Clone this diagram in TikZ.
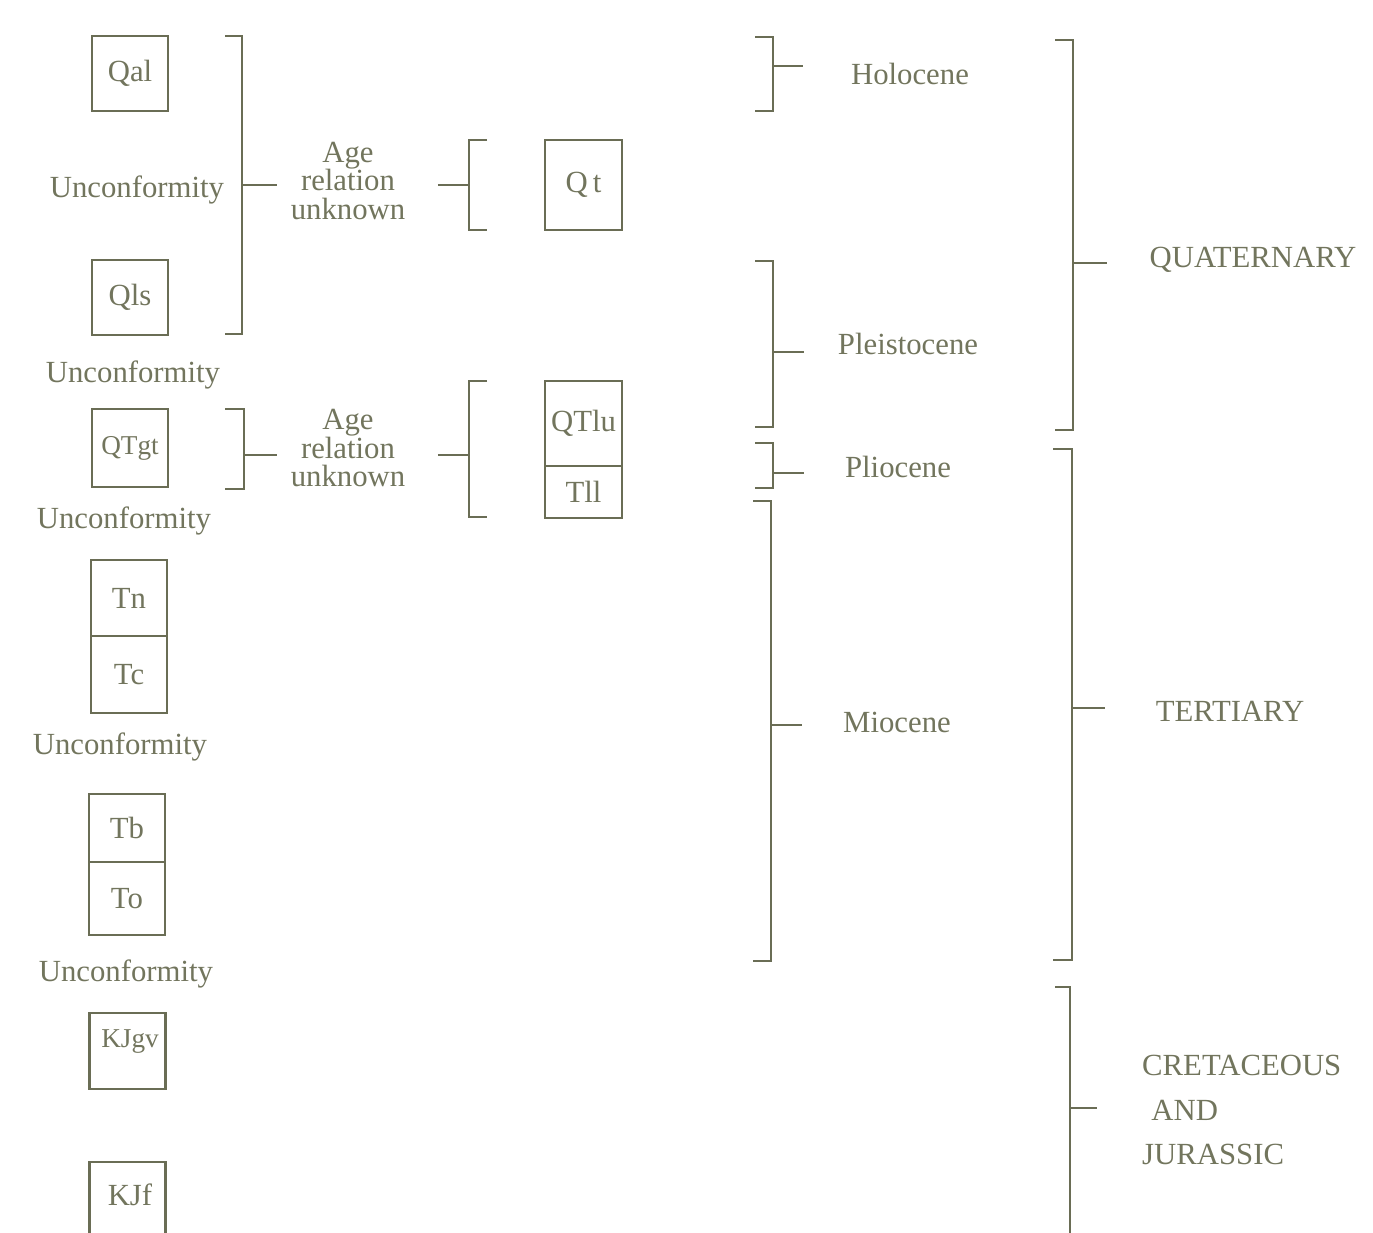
\documentclass[tikz,border=0pt]{standalone}
\usepackage{fontspec}
\setmainfont{Liberation Serif}
\usepackage{tikz}
\usetikzlibrary{positioning}
\definecolor{figOlive}{HTML}{6A6D55}
\definecolor{figText}{HTML}{72755D}

\begin{document}
\begin{tikzpicture}[x=0.02cm, y=-0.02cm,
  every node/.style={font=\fontsize{17.5}{16.5}\selectfont, text=figText},
  unit/.style={draw=figOlive, line width=1.6pt, minimum width=1.52cm,
             inner sep=0pt, outer sep=0pt},
  smallunit/.style={font=\fontsize{15.5}{15.5}\selectfont},
  agebox/.style={align=center, font=\fontsize{17.5}{16.5}\selectfont},
  brk/.style={draw=figOlive, line width=1.6pt},
]
\useasboundingbox (0,0) rectangle (1373,1233);

% Map units, left column
\node[unit, minimum height=1.5cm] (qal) at (130,73.5) {Qal};
\node (unc1) at (137,190) {Unconformity};
\node[unit, minimum height=1.5cm] (qls) at (130,297.5) {Qls};
\node (unc2) at (133,375) {Unconformity};
\node[unit, smallunit, minimum height=1.56cm] (qtgt) at (130,448) {QTgt};
\node (unc3) at (124,521) {Unconformity};
\node[unit, minimum height=1.52cm] (tn) at (129,598) {Tn};
\node[unit, minimum height=1.54cm, below=0pt of tn] (tc) {Tc};
\node (unc4) at (120,747) {Unconformity};
\node[unit, minimum height=1.36cm] (tb) at (127,828) {Tb};
\node[unit, minimum height=1.46cm, below=0pt of tb] (to) {To};
\node (unc5) at (126,974) {Unconformity};
\node[unit, minimum height=1.52cm] (kjgv) at (127.5,1051) {};
\node[smallunit] (kjgvlbl) at (130,1042) {KJgv};
\node[unit, minimum height=2cm] (kjf) at (127.5,1212) {};
\node (kjflbl) at (130,1195) {KJf};

% Map units, middle column
\node[unit, minimum width=1.54cm, minimum height=1.8cm] (qt) at (583.5,185) {Q\,t};
\node[unit, minimum width=1.54cm, minimum height=1.7cm] (qtlu) at (583.5,423.5) {QTlu};
\node[unit, minimum width=1.54cm, minimum height=1.04cm, below=0pt of qtlu] (tll) {Tll};

\node[agebox] (age1) at (348,181) {Age\\relation\\unknown};
\node[agebox] (age2) at (348,448) {Age\\relation\\unknown};

% Epochs and periods
\node (holo) at (910,74) {Holocene};
\node (pleist) at (908,344) {Pleistocene};
\node (plio) at (898,467) {Pliocene};
\node (mio) at (897,722) {Miocene};
\node (quat) at (1253,260) {QUATERNARY};
\node (tert) at (1230,711) {TERTIARY};
\node[align=left, anchor=west, font=\fontsize{17.5}{25.5}\selectfont] (cret) at (1136,1110)
  {CRETACEOUS\\\hspace{0.3em}AND\\JURASSIC};

% Brackets
\draw[brk] (225,36) -| (242,334) -- (225,334);
\draw[brk] (487,140) -| (469,230) -- (487,230);
\draw[brk] (225,409) -| (244,489) -- (225,489);
\draw[brk] (487,381) -| (469,517) -- (487,517);
\draw[brk] (755,37) -| (773,111) -- (755,111);
\draw[brk] (755,261) -| (773,427) -- (755,427);
\draw[brk] (755,443) -| (773,488) -- (755,488);
\draw[brk] (753,501) -| (771,961) -- (753,961);
\draw[brk] (1055,40) -| (1073,430) -- (1055,430);
\draw[brk] (1053,449) -| (1072,960) -- (1053,960);
\draw[brk] (1055,987) -| (1070,1245);

% Ticks from brackets to labels
\coordinate (b1) at (242,185);
\coordinate (b2) at (469,185);
\coordinate (b3) at (244,455);
\coordinate (b4) at (469,455);
\coordinate (bholo) at (773,66);
\coordinate (bpleist) at (773,352);
\coordinate (bplio) at (773,473);
\coordinate (bmio) at (771,725);
\coordinate (bquat) at (1073,263);
\coordinate (btert) at (1072,708);
\coordinate (bcret) at (1070,1108);

\draw[brk, shorten >=4.5pt] (b1) -- (b1 -| age1.west);
\draw[brk, shorten <=15pt] (b2 -| age1.east) -- (b2);
\draw[brk, shorten >=4.5pt] (b3) -- (b3 -| age2.west);
\draw[brk, shorten <=15pt] (b4 -| age2.east) -- (b4);
\draw[brk, shorten >=24pt] (bholo) -- (bholo -| holo.west);
\draw[brk, shorten >=16pt] (bpleist) -- (bpleist -| pleist.west);
\draw[brk, shorten >=20pt] (bplio) -- (bplio -| plio.west);
\draw[brk, shorten >=20pt] (bmio) -- (bmio -| mio.west);
\draw[brk, shorten >=21pt] (bquat) -- (bquat -| quat.west);
\draw[brk, shorten >=25.5pt] (btert) -- (btert -| tert.west);
\draw[brk, shorten >=22pt] (bcret) -- (bcret -| cret.west);

\end{tikzpicture}
\end{document}
